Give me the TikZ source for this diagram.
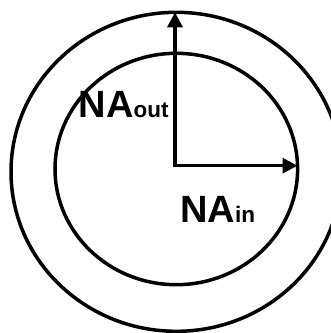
\documentclass[tikz,border=0pt]{standalone}
\usepackage{fontspec}
\setmainfont{Liberation Sans}
\usetikzlibrary{arrows.meta}
\begin{document}
\begin{tikzpicture}[x=1pt,y=-1pt,
  ring/.style={line width=3.5pt},
  radius arrow/.style={line width=3.3pt,{Triangle[length=15pt,width=15pt]}-{Triangle[length=15pt,width=15pt]}},
  lbl/.style={anchor=base west,inner sep=0pt,font=\bfseries}]
\useasboundingbox (0,0) rectangle (331,333);
\clip (0,0) rectangle (331,333);
\draw[ring] (176.3,171.8) ellipse [x radius=165.3, y radius=159.5];
\draw[ring] (176.3,169) ellipse [x radius=121.3, y radius=115.7];
\coordinate (c) at (175,165.7);
\coordinate (top) at (175,12.3);
\coordinate (right) at (297.5,165.7);
\draw[radius arrow] (top) -- (c) -- (right);
\node[lbl] (naout) at (78.5,117) {{\fontsize{38}{38}\selectfont NA}{\fontsize{22.5}{22.5}\selectfont out}};
\node[lbl] (nain) at (180,222.5) {{\fontsize{38}{38}\selectfont NA}{\fontsize{22.5}{22.5}\selectfont in}};
\end{tikzpicture}
\end{document}
